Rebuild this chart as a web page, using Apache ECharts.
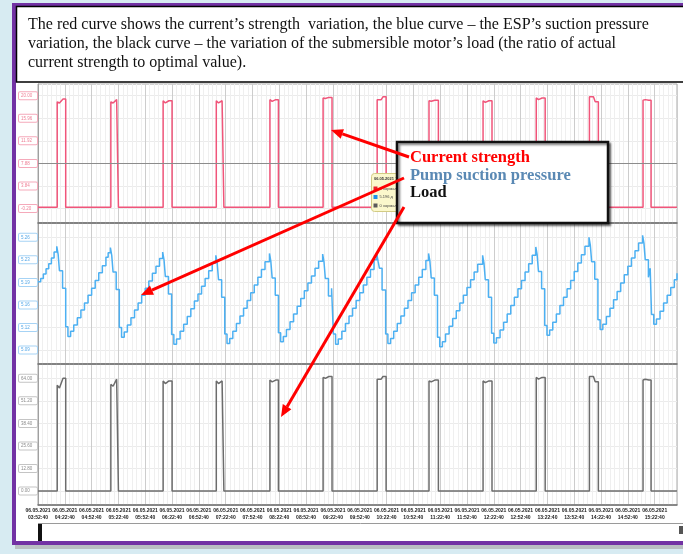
<!DOCTYPE html>
<html>
<head>
<meta charset="utf-8">
<script src="https://cdn.jsdelivr.net/npm/echarts@6.0.0/dist/echarts.min.js"></script>
<style>
  html, body { margin: 0; padding: 0; background: #d7ebf2; }
  #chart { width: 683px; height: 554px; }
</style>
</head>
<body>
<div id="chart"></div>
<script>
// --- data (time = minutes after 06.05.2021 03:52:40) ---
const dateLabel = '06.05.2021';
const startClock = [3, 52, 40];
const timeSpan = 715;
const tickStep = 30;

const currentTicks = [-0.2, 3.84, 7.88, 11.92, 15.96, 20.0];
const pressureTicks = [5.085, 5.12, 5.155, 5.19, 5.225, 5.26];
const loadTicks = [0, 12.8, 25.6, 38.4, 51.2, 64.0];

// pump on / off moments
const runStart = [21.5, 81.5, 140, 199.5, 259.5, 319, 379.5, 437.5, 498, 557.5, 617, 677];
const runEnd = [31, 90, 150, 208, 269, 329, 389.5, 448, 508, 567.5, 627, 686];

// top of each pulse: left, dip, right
const currentTop = [
    [18.9, 18.7, 19.4], [18.9, 18.7, 19.3], [19.1, 18.7, 19.1], [19.1, 18.7, 19.1],
    [19.3, 19.0, 19.3], [19.6, 19.5, 19.7], [19.3, 19.3, 19.8], [19.1, 19.0, 19.2],
    [19.1, 18.8, 19.1], [19.6, 19.3, 19.6], [19.8, 19.8, 18.9], [19.2, 19.3, 19.2]
];
const loadTop = [
    [60.0, 58.5, 64.0], [60.5, 59.5, 63.5], [62.5, 61.0, 62.5], [62.5, 61.0, 62.5],
    [63.0, 62.0, 63.0], [64.5, 64.0, 65.0], [63.5, 63.5, 65.0], [62.5, 62.0, 63.0],
    [62.5, 61.5, 62.5], [64.5, 63.5, 64.5], [65.0, 65.0, 62.0], [63.0, 63.5, 63.0]
];

const pressurePoints = [
    [0, 5.191], [3, 5.196], [6, 5.203], [9, 5.211], [12, 5.219], [15, 5.228], [18, 5.237], [21, 5.246],
    [22.5, 5.234], [24, 5.208], [27.5, 5.181], [31, 5.121], [33.5, 5.106], [36.5, 5.114],
    [40, 5.124], [44, 5.135], [48, 5.147], [52, 5.158], [56, 5.170], [60, 5.181], [64, 5.193], [68, 5.205], [72, 5.216], [76, 5.229], [78.5, 5.236], [81, 5.244],
    [82.5, 5.232], [84, 5.206], [87.5, 5.179], [91, 5.120], [93.5, 5.105], [96.5, 5.113],
    [100, 5.124], [104, 5.135], [108, 5.147], [112, 5.158], [116, 5.170], [120, 5.181], [124, 5.192], [128, 5.204], [132, 5.215], [136, 5.227], [139.5, 5.237],
    [141, 5.225], [142.5, 5.199], [146, 5.172], [149.5, 5.109], [152, 5.094], [155, 5.102],
    [159, 5.114], [163, 5.125], [167, 5.137], [171, 5.149], [175, 5.161], [179, 5.172], [183, 5.184], [187, 5.196], [191, 5.208], [195, 5.220], [199, 5.232],
    [200.5, 5.220], [202, 5.194], [205.5, 5.167], [209, 5.110], [211.5, 5.095], [214.5, 5.103],
    [218, 5.114], [222, 5.126], [226, 5.138], [230, 5.150], [234, 5.162], [238, 5.174], [242, 5.186], [246, 5.198], [250, 5.210], [254, 5.222], [259, 5.235],
    [260.5, 5.223], [262, 5.197], [265.5, 5.170], [269, 5.112], [271.5, 5.098], [274.5, 5.106],
    [278, 5.117], [282, 5.129], [286, 5.141], [290, 5.153], [294, 5.165], [298, 5.177], [302, 5.189], [306, 5.200], [310, 5.212], [314, 5.223], [318.5, 5.234],
    [320, 5.222], [321.5, 5.196], [325, 5.169], [328.5, 5.181], [330.5, 5.110], [333, 5.094], [336, 5.102],
    [340, 5.114], [344, 5.126], [348, 5.138], [352, 5.150], [356, 5.162], [360, 5.174], [364, 5.186], [368, 5.198], [372, 5.210], [376, 5.225], [379, 5.235],
    [380.5, 5.223], [382, 5.212], [385, 5.178], [389, 5.110], [391.5, 5.095], [394.5, 5.103],
    [398, 5.114], [402, 5.126], [406, 5.138], [410, 5.150], [414, 5.162], [418, 5.174], [422, 5.186], [426, 5.198], [430, 5.210], [434, 5.224], [437, 5.235],
    [438.5, 5.223], [440, 5.197], [443.5, 5.170], [447, 5.105], [449.5, 5.090], [452.5, 5.098],
    [456, 5.110], [460, 5.122], [464, 5.134], [468, 5.146], [472, 5.158], [476, 5.170], [480, 5.182], [484, 5.194], [488, 5.206], [492, 5.218], [497.5, 5.232],
    [499, 5.220], [500.5, 5.194], [504, 5.167], [507.5, 5.111], [510, 5.096], [513, 5.104],
    [517, 5.116], [521, 5.128], [525, 5.141], [529, 5.154], [533, 5.167], [537, 5.180], [541, 5.193], [545, 5.206], [549, 5.219], [553, 5.232], [557, 5.245],
    [558.5, 5.233], [560, 5.207], [563.5, 5.180], [567, 5.123], [569.5, 5.108], [572.5, 5.116],
    [576, 5.128], [580, 5.141], [584, 5.154], [588, 5.167], [592, 5.180], [596, 5.193], [600, 5.207], [604, 5.220], [608, 5.233], [612, 5.246], [616.5, 5.260],
    [618, 5.248], [619.5, 5.222], [623, 5.195], [626.5, 5.132], [629, 5.117], [632, 5.125],
    [636, 5.137], [640, 5.150], [644, 5.163], [648, 5.176], [652, 5.189], [656, 5.202], [660, 5.215], [664, 5.228], [668, 5.239], [672, 5.251], [676.5, 5.263],
    [678, 5.251], [679.5, 5.225], [683, 5.198], [685, 5.212], [686.5, 5.140], [689, 5.125], [692, 5.133],
    [696, 5.145], [700, 5.158], [704, 5.170], [708, 5.182], [712, 5.194], [715, 5.204]
];

const captionLines = [
    'The red curve shows the current’s strength  variation, the blue curve – the ESP’s suction pressure',
    'variation, the black curve – the variation of the submersible motor’s load (the ratio of actual',
    'current strength to optimal value).'
];
const legendNames = ['Current strength', 'Pump suction pressure', 'Load'];
const tipRows = ['0 нормал', '5.196 д', '0 нормал'];

// --- helpers ---
function pulseLine(tops) {
    const pts = [[0, 0]];
    runStart.forEach((s, i) => {
        const e = runEnd[i];
        const [l, d, r] = tops[i];
        pts.push([s, 0], [s, l], [s + 2, l], [s + 2.5, d], [s + 4.5, d], [s + 6.5, r], [e, r], [e, 0]);
    });
    pts.push([timeSpan, 0]);
    return pts;
}

function clock(mins) {
    let sec = startClock[0] * 3600 + startClock[1] * 60 + startClock[2] + Math.round(mins * 60);
    const p = n => String(n).padStart(2, '0');
    return p(Math.floor(sec / 3600)) + ':' + p(Math.floor(sec / 60) % 60) + ':' + p(sec % 60);
}

function arrow(x1, y1, x2, y2) {
    const len = Math.hypot(x2 - x1, y2 - y1);
    const ux = (x2 - x1) / len, uy = (y2 - y1) / len;
    const bx = x2 - ux * 12, by = y2 - uy * 12;
    return [
        { type: 'line', z: 110, shape: { x1, y1, x2: bx, y2: by }, style: { stroke: '#ff0000', lineWidth: 3 } },
        { type: 'polygon', z: 110, shape: { points: [[x2, y2], [bx - uy * 5, by + ux * 5], [bx + uy * 5, by - ux * 5]] }, style: { fill: '#ff0000' } }
    ];
}

const panels = [
    { top: 84, height: 139, min: -2.8, max: 22.1, ticks: currentTicks, text: '#ee7f95', border: '#f5a9ba' },
    { top: 223, height: 141, min: 5.0633, max: 5.2822, ticks: pressureTicks, text: '#55a8e8', border: '#a6d3f5' },
    { top: 364, height: 141, min: -7.95, max: 72.12, ticks: loadTicks, text: '#8a8a8a', border: '#c4c4c4' }
];

const chart = echarts.init(document.getElementById('chart'));

const option = {
    backgroundColor: '#ffffff',
    animation: false,
    grid: panels.map(p => ({
        left: 38, right: 6, top: p.top, height: p.height,
        show: true, borderColor: '#a8a8a8', borderWidth: 1
    })),
    xAxis: panels.map((p, i) => ({
        type: 'value', gridIndex: i, min: 0, max: timeSpan, interval: tickStep,
        axisLine: { show: true, onZero: false, lineStyle: { color: '#6f6f6f', width: 1.5 } },
        axisTick: { show: false },
        axisLabel: {
            show: i === 2, fontSize: 5, lineHeight: 7, margin: 2, color: '#222',
            fontFamily: 'Liberation Sans', fontWeight: 'bold',
            formatter: v => (v % tickStep === 0 ? dateLabel + '\n' + clock(v) : '')
        },
        splitLine: { show: true, lineStyle: { color: '#cdcdcd', width: 1 } },
        minorTick: { show: false, splitNumber: 6 },
        minorSplitLine: { show: true, lineStyle: { color: '#efefef', width: 1 } }
    })),
    yAxis: panels.map((p, i) => ({
        type: 'value', gridIndex: i, min: p.min, max: p.max,
        axisLine: { show: true, onZero: false, lineStyle: { color: '#a0a0a0' } },
        axisTick: { show: false, customValues: p.ticks },
        axisLabel: {
            customValues: p.ticks,
            formatter: v => (v + 1e-9).toFixed(2),
            fontSize: 4.5, lineHeight: 5, color: p.text, fontFamily: 'Liberation Sans',
            align: 'left', margin: 19, width: 15,
            backgroundColor: '#fff', borderColor: p.border, borderWidth: 1, borderRadius: 1,
            padding: [1, 1, 1, 2]
        },
        splitLine: { show: true, lineStyle: { color: '#ebebeb' } }
    })),
    series: [
        {
            type: 'line', xAxisIndex: 0, yAxisIndex: 0, data: pulseLine(currentTop),
            symbol: 'none', lineStyle: { color: '#f0557a', width: 1.5 },
            markLine: {
                silent: true, symbol: 'none', label: { show: false },
                lineStyle: { color: '#8c8c8c', type: 'solid', width: 1 },
                data: [{ yAxis: currentTicks[2] }]
            }
        },
        {
            type: 'line', xAxisIndex: 1, yAxisIndex: 1, data: pressurePoints, step: 'end',
            symbol: 'none', lineStyle: { color: '#4cb0f2', width: 1.5 }
        },
        {
            type: 'line', xAxisIndex: 2, yAxisIndex: 2, data: pulseLine(loadTop),
            symbol: 'none', lineStyle: { color: '#6c6c6c', width: 1.5 }
        }
    ],
    graphic: [
        // frame round the screenshot
        { type: 'rect', z: 100, shape: { x: 0, y: 0, width: 12, height: 554 }, style: { fill: '#d7ebf2' } },
        { type: 'rect', z: 100, shape: { x: 0, y: 0, width: 683, height: 3 }, style: { fill: '#d7ebf2' } },
        { type: 'rect', z: 100, shape: { x: 0, y: 545, width: 683, height: 9 }, style: { fill: '#d7ebf2' } },
        { type: 'rect', z: 101, shape: { x: 15, y: 545, width: 668, height: 4 }, style: { fill: '#b9bfc2' } },
        { type: 'rect', z: 102, shape: { x: 12, y: 3, width: 4, height: 542 }, style: { fill: '#7232a4' } },
        { type: 'rect', z: 102, shape: { x: 12, y: 3, width: 671, height: 3 }, style: { fill: '#7232a4' } },
        { type: 'rect', z: 102, shape: { x: 12, y: 541, width: 671, height: 4 }, style: { fill: '#7232a4' } },
        // caption box
        { type: 'rect', z: 103, shape: { x: 16.5, y: 6.5, width: 680, height: 75.5 }, style: { fill: '#fff', stroke: '#000', lineWidth: 1.5 } },
        ...captionLines.map((t, i) => ({
            type: 'text', z: 104, style: {
                text: t, x: 28, y: 25 + i * 19, verticalAlign: 'middle',
                font: '16px "Liberation Serif"', fill: '#111'
            }
        })),
        // scroll strip below the axis
        { type: 'line', z: 100, shape: { x1: 38, y1: 523.5, x2: 683, y2: 523.5 }, style: { stroke: '#9a9a9a', lineWidth: 1 } },
        { type: 'rect', z: 100, shape: { x: 38, y: 524, width: 4, height: 17 }, style: { fill: '#111' } },
        { type: 'rect', z: 100, shape: { x: 679, y: 526, width: 4, height: 8 }, style: { fill: '#555' } },
        // hover tooltip
        { type: 'rect', z: 105, shape: { x: 371.5, y: 173.5, width: 45, height: 38, r: 3 }, style: { fill: '#fbf8cc', stroke: '#d2cb84', lineWidth: 1 } },
        { type: 'text', z: 106, style: { text: dateLabel + ' ' + clock(370), x: 374, y: 179, verticalAlign: 'middle', font: 'bold 4px "Liberation Sans"', fill: '#333' } },
        ...['#e8202a', '#1e90e8', '#5a5a5a'].map((c, i) => ({
            type: 'rect', z: 106, shape: { x: 373.5, y: 186.5 + i * 8.5, width: 4, height: 4 }, style: { fill: c }
        })),
        ...tipRows.map((t, i) => ({
            type: 'text', z: 106, style: { text: t, x: 379.5, y: 188.5 + i * 8.5, verticalAlign: 'middle', font: '4px "Liberation Sans"', fill: '#444' }
        })),
        // annotation box
        {
            type: 'rect', z: 107, shape: { x: 397, y: 142, width: 211, height: 81 },
            style: { fill: '#fff', stroke: '#111', lineWidth: 2.5, shadowBlur: 2, shadowOffsetX: 2, shadowOffsetY: 2, shadowColor: 'rgba(0,0,0,0.45)' }
        },
        ...legendNames.map((t, i) => ({
            type: 'text', z: 108, style: {
                text: t, x: 410, y: 158 + i * 17.5, verticalAlign: 'middle',
                font: 'bold 16.5px "Liberation Serif"', fill: ['#ff0000', '#5a89b4', '#111'][i]
            }
        })),
        ...arrow(409, 157, 331, 130),
        ...arrow(404, 178, 141, 295),
        ...arrow(404, 207, 281, 417)
    ]
};

chart.setOption(option);
</script>
</body>
</html>
